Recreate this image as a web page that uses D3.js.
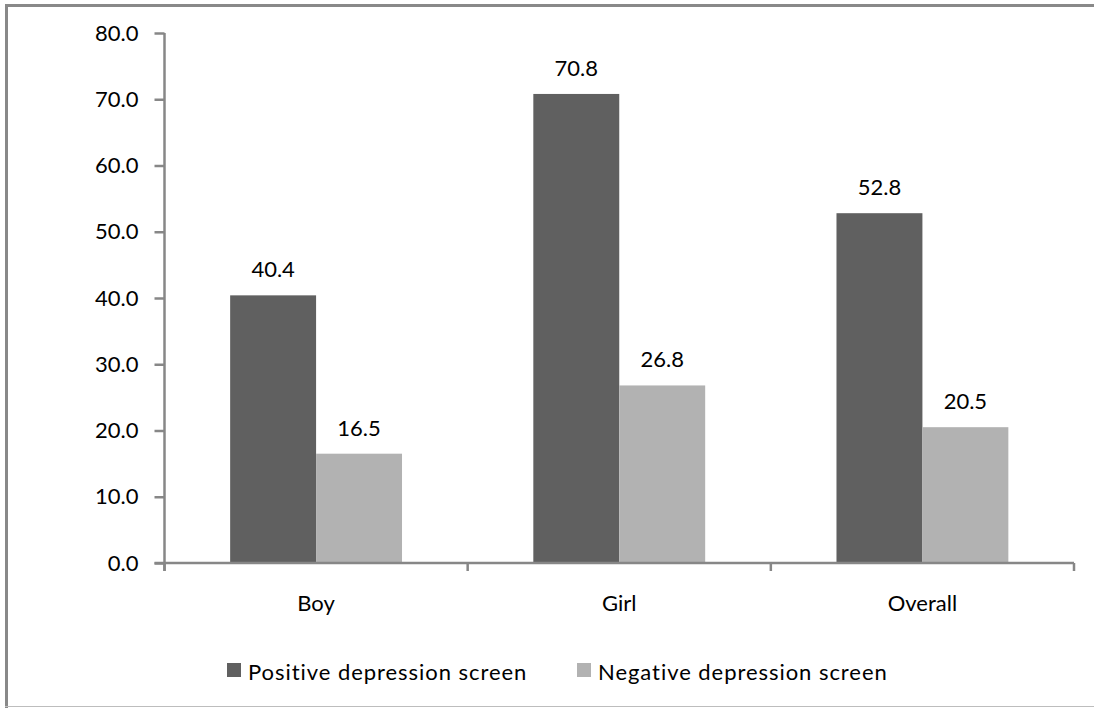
<!DOCTYPE html>
<html>
<head>
<meta charset="utf-8">
<script src="https://cdn.jsdelivr.net/npm/d3@7"></script>
<style>
  html, body { margin: 0; padding: 0; background: #fff; }
  svg { display: block; }
  text { font-family: Lato, "Open Sans", sans-serif; fill: #000; }
</style>
</head>
<body>
<svg id="chart" width="1094" height="708"></svg>
<script>
const categories = ["Boy", "Girl", "Overall"];
const seriesNames = ["Positive depression screen", "Negative depression screen"];
const positiveValues = [40.4, 70.8, 52.8];
const negativeValues = [16.5, 26.8, 20.5];
const yTicks = [0, 10, 20, 30, 40, 50, 60, 70, 80];
const seriesColors = ["#606060", "#b2b2b2"];

const svg = d3.select("#chart");
const fontSize = 22;
const axisColor = "#878787";

// outer frame
svg.append("path")
  .attr("d", "M6.5,712 L6.5,5.5 L1100,5.5")
  .attr("fill", "none").attr("stroke", "#898989").attr("stroke-width", 3);
svg.append("line")
  .attr("x1", 5).attr("x2", 1094).attr("y1", 706.5).attr("y2", 706.5)
  .attr("stroke", "#bdbdbd").attr("stroke-width", 1);

const plotLeft = 164.5, plotRight = 1074, plotTop = 33, plotBottom = 563;

const y = d3.scaleLinear().domain([0, 80]).range([plotBottom, plotTop]);
const x0 = d3.scaleBand().domain(categories).range([plotLeft, plotRight]).padding(0);
const x1 = d3.scaleBand().domain(seriesNames).range([0, x0.bandwidth()])
  .paddingInner(0).paddingOuter(0.764);

const data = categories.map((c, i) => ({
  cat: c,
  vals: [
    { s: seriesNames[0], v: positiveValues[i], color: seriesColors[0] },
    { s: seriesNames[1], v: negativeValues[i], color: seriesColors[1] }
  ]
}));

// bars
const groups = svg.append("g").selectAll("g").data(data).join("g")
  .attr("transform", d => `translate(${x0(d.cat)},0)`);
groups.selectAll("rect").data(d => d.vals).join("rect")
  .attr("x", d => x1(d.s))
  .attr("width", x1.bandwidth())
  .attr("y", d => y(d.v))
  .attr("height", d => y(0) - y(d.v))
  .attr("fill", d => d.color);
groups.selectAll("text").data(d => d.vals).join("text")
  .attr("x", d => x1(d.s) + x1.bandwidth() / 2)
  .attr("y", d => y(d.v) - 18)
  .attr("text-anchor", "middle")
  .style("font-size", fontSize + "px")
  .text(d => d3.format(".1f")(d.v));

// y axis
const yAxis = svg.append("g").attr("transform", `translate(${plotLeft},0)`)
  .call(d3.axisLeft(y).tickValues(yTicks).tickFormat(d3.format(".1f")).tickSize(10).tickSizeOuter(0).tickPadding(16));
yAxis.select(".domain").attr("stroke", axisColor).attr("stroke-width", 2.5)
  .attr("d", `M0,${plotTop} V${plotBottom + 8}`);
yAxis.selectAll(".tick line").attr("stroke", axisColor).attr("stroke-width", 2.5);
yAxis.selectAll(".tick text").style("font-size", fontSize + "px")
  .style("font-family", "Lato, sans-serif").attr("fill", "#000");

// x axis
const xAxis = svg.append("g").attr("transform", `translate(0,${plotBottom})`);
xAxis.append("path")
  .attr("d", `M${plotLeft - 10},0 H${plotRight}`)
  .attr("stroke", axisColor).attr("stroke-width", 2.5).attr("fill", "none");
const boundaries = categories.map(c => x0(c)).concat([x0(categories[categories.length - 1]) + x0.bandwidth()]);
xAxis.selectAll("line.sep").data(boundaries).join("line")
  .attr("class", "sep")
  .attr("x1", d => d).attr("x2", d => d)
  .attr("y1", 0).attr("y2", 8)
  .attr("stroke", axisColor).attr("stroke-width", 2.5);
xAxis.selectAll("text.cat").data(categories).join("text")
  .attr("class", "cat")
  .attr("x", d => x0(d) + x0.bandwidth() / 2)
  .attr("y", 48)
  .attr("text-anchor", "middle")
  .style("font-size", fontSize + "px")
  .text(d => d);

// legend
const legendItems = [
  { name: seriesNames[0], color: seriesColors[0], x: 227 },
  { name: seriesNames[1], color: seriesColors[1], x: 577 }
];
const lg = svg.append("g").selectAll("g").data(legendItems).join("g")
  .attr("transform", d => `translate(${d.x},663)`);
lg.append("rect").attr("width", 14).attr("height", 14).attr("fill", d => d.color);
lg.append("text").attr("x", 21).attr("y", 17)
  .style("font-size", fontSize + "px")
  .style("letter-spacing", "0.95px")
  .text(d => d.name);
</script>
</body>
</html>
